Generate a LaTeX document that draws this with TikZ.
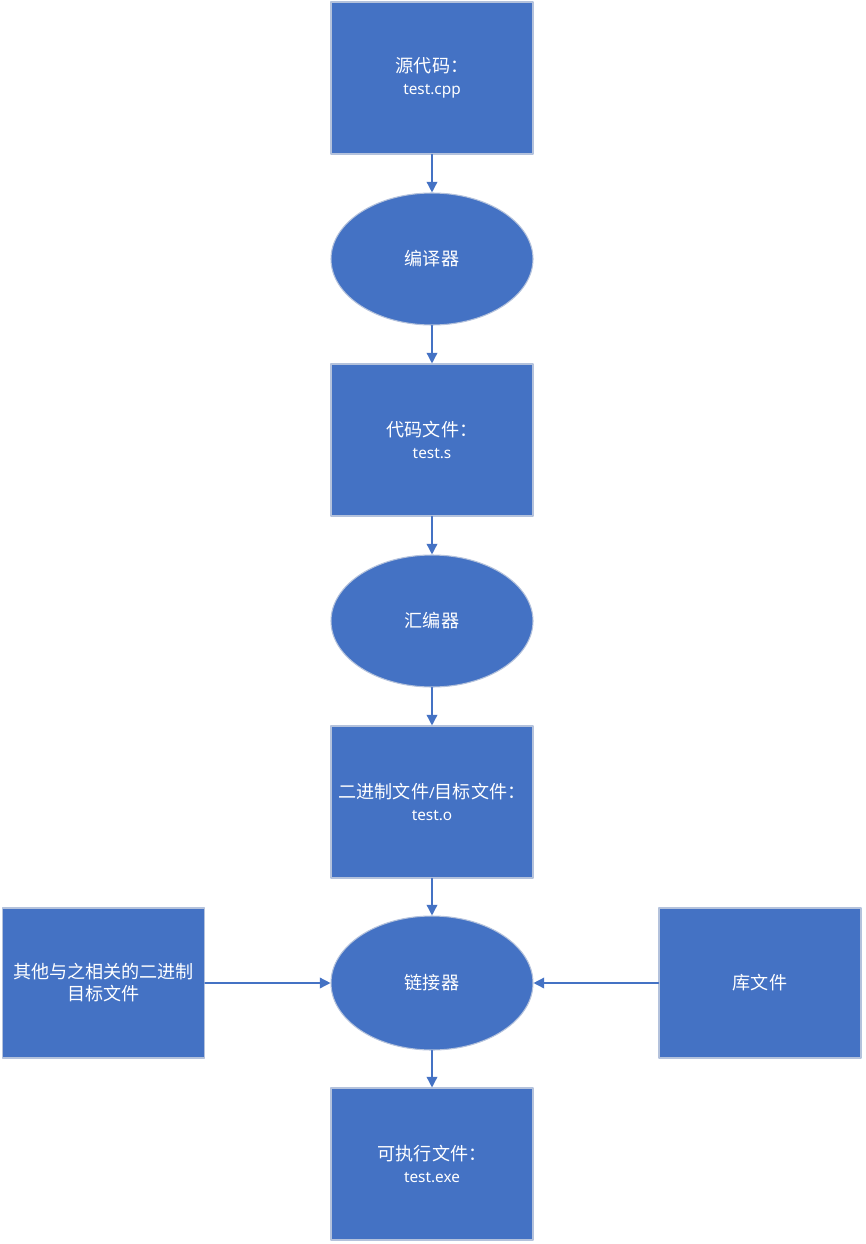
\documentclass[tikz,border=0pt]{standalone}
\usepackage{fontspec}
\setmainfont{Noto Sans}
\newfontfamily\cjk[Scale=1.18]{Noto Sans CJK SC}
\usetikzlibrary{shapes.geometric,arrows.meta}
\definecolor{boxblue}{HTML}{4472C4}
\definecolor{rim}{HTML}{B4C2DC}
\tikzset{
  every picture/.style={line join=round, line cap=round},
  filebox/.style={rectangle, draw=rim, fill=boxblue, line width=0.8pt,
    minimum width=151.5pt, minimum height=114pt, inner sep=2pt,
    text=white, align=center, font=\fontsize{11.5}{16.5}\selectfont},
  toolnode/.style={ellipse, draw=rim, fill=boxblue, line width=0.8pt,
    minimum width=151.5pt, minimum height=99pt, inner sep=0pt,
    text=white, align=center, font=\fontsize{11.5}{16.5}\selectfont},
  flow/.style={draw=boxblue, line width=1.1pt,
    -{Triangle[width=8pt,length=8pt]}},
}
\begin{document}
\begin{tikzpicture}[x=0.75pt, y=-0.75pt]
\useasboundingbox (0,0) rectangle (865,1244);
% Main column
\node[filebox] (src) at (432,78) {{\cjk 源代码：}\\test.cpp};
\node[toolnode] (cc) at (432,259) {\cjk 编译器};
\node[filebox] (asm) at (432,440) {{\cjk 代码文件：}\\test.s};
\node[toolnode] (as) at (432,621) {\cjk 汇编器};
\node[filebox] (obj) at (432,802) {{\cjk 二进制文件}/{\cjk 目标文件：}\\test.o};
\node[toolnode, minimum height=100.5pt] (ld) at (432,983) {\cjk 链接器};
\node[filebox] (exe) at (432,1164) {{\cjk 可执行文件：}\\test.exe};

% Side inputs
\node[filebox, minimum height=112.5pt] (other) at (103.5,983) {\cjk 其他与之相关的二进制\\\cjk 目标文件};
\node[filebox, minimum height=112.5pt] (lib) at (760,983) {\cjk 库文件};

% Arrows
\draw[flow] (src) -- (cc);
\draw[flow] (cc) -- (asm);
\draw[flow] (asm) -- (as);
\draw[flow] (as) -- (obj);
\draw[flow] (obj) -- (ld);
\draw[flow] (ld) -- (exe);
\draw[flow] (other) -- (ld);
\draw[flow] (lib) -- (ld);
\end{tikzpicture}
\end{document}
